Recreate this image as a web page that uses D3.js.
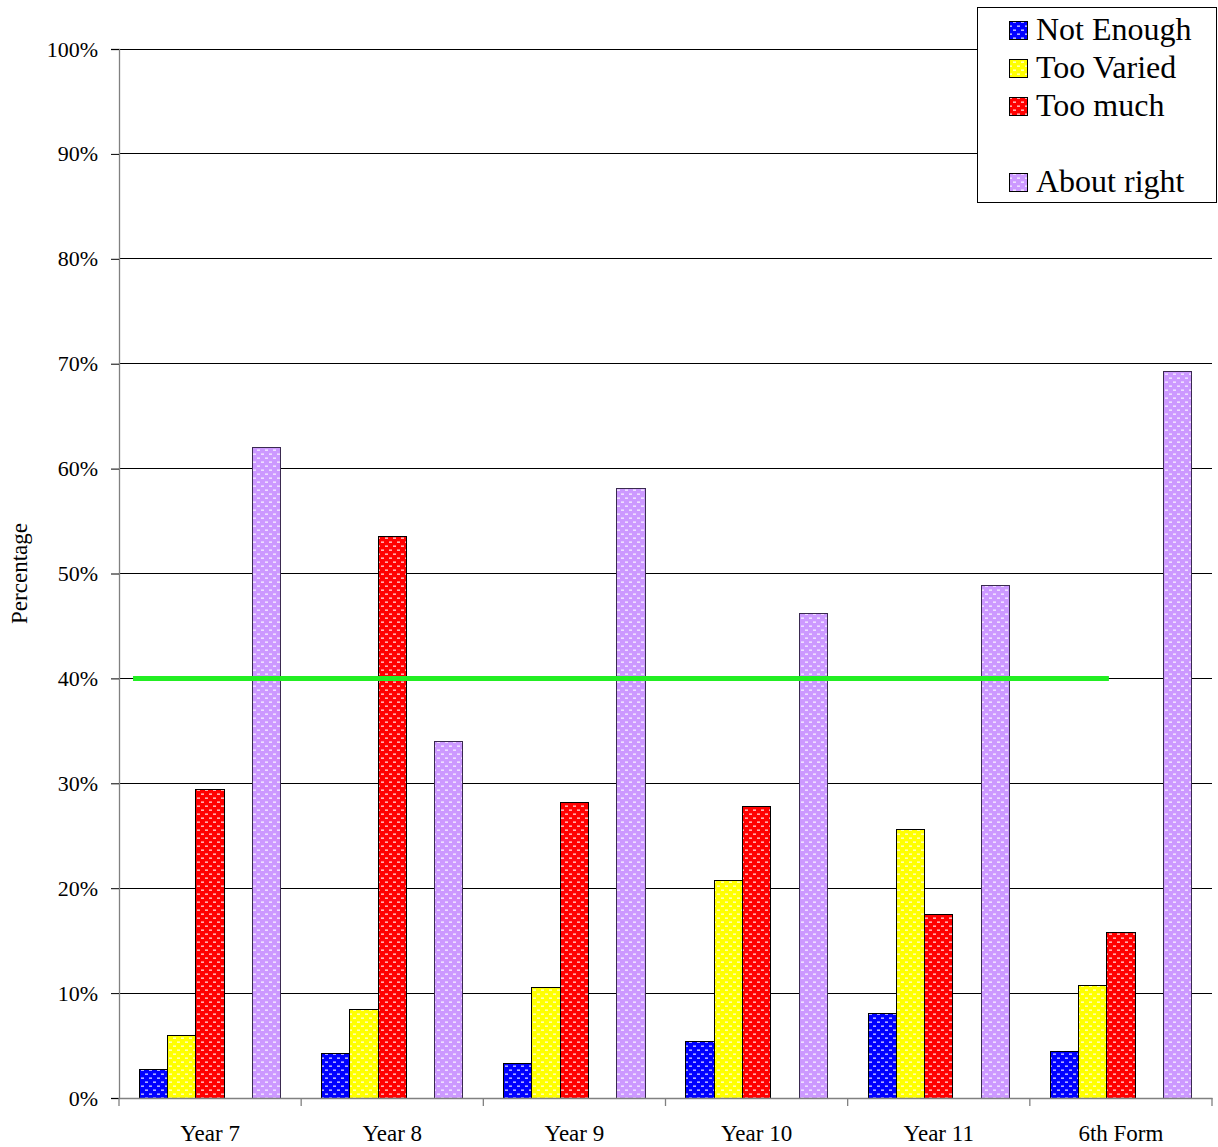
<!DOCTYPE html>
<html>
<head>
<meta charset="utf-8">
<script src="https://cdn.jsdelivr.net/npm/d3@7"></script>
<style>
  body { margin: 0; background: #fff; }
  text { font-family: "Liberation Serif", "Times New Roman", serif; }
</style>
</head>
<body>
<script>
// Year groups along the x axis
const categories = ["Year 7", "Year 8", "Year 9", "Year 10", "Year 11", "6th Form"];
// Series names (one blank slot in the legend and the groups)
const seriesNames = ["Not Enough", "Too Varied", "Too much", "", "About right"];
const seriesColors = ["#0000ff", "#ffff00", "#ff0000", "none", "#cc99ff"];
// Percentages per year group
const notEnough  = [2.7, 4.2, 3.3, 5.4, 8.1, 4.4];
const tooVaried  = [6.0, 8.4, 10.5, 20.7, 25.6, 10.7];
const tooMuch    = [29.4, 53.5, 28.2, 27.8, 17.5, 15.8];
const blankSlot  = [null, null, null, null, null, null];
const aboutRight = [62.0, 34.0, 58.1, 46.2, 48.9, 69.3];
const seriesValues = [notEnough, tooVaried, tooMuch, blankSlot, aboutRight];
// Y axis ticks and reference level
const yTicks = [0, 10, 20, 30, 40, 50, 60, 70, 80, 90, 100];
const referenceLevel = 40;

const W = 1218, H = 1147;
const plotLeft = 119, plotRight = 1212, plotTop = 49, plotBottom = 1098;

const svg = d3.select("body").append("svg").attr("width", W).attr("height", H);

// dotted fill patterns for the bars
const defs = svg.append("defs");
seriesColors.forEach((c, i) => {
  if (c === "none") return;
  const p = defs.append("pattern").attr("id", "pat" + i)
    .attr("patternUnits", "userSpaceOnUse").attr("width", 8).attr("height", 8);
  p.append("rect").attr("width", 8).attr("height", 8).attr("fill", c);
  p.append("rect").attr("x", 1).attr("y", 1.5).attr("width", 3).attr("height", 1.3).attr("fill", "#fff").attr("opacity", 0.85);
  p.append("rect").attr("x", 5).attr("y", 5.5).attr("width", 3).attr("height", 1.3).attr("fill", "#fff").attr("opacity", 0.85);
});

const x = d3.scaleBand().domain(categories).range([plotLeft, plotRight]);
const inner = d3.scaleBand().domain(d3.range(seriesNames.length))
  .range([0, x.bandwidth()]).paddingOuter(0.72).paddingInner(0);
const y = d3.scaleLinear().domain([0, 100]).range([plotBottom, plotTop]);

// gridlines
svg.append("g").selectAll("line").data(yTicks.filter(t => t > 0)).join("line")
  .attr("x1", plotLeft).attr("x2", plotRight)
  .attr("y1", d => y(d)).attr("y2", d => y(d))
  .attr("stroke", "#000").attr("stroke-width", 1).attr("shape-rendering", "crispEdges");

// bars
seriesValues.forEach((vals, si) => {
  if (seriesColors[si] === "none") return;
  svg.append("g").selectAll("rect").data(categories.map((c, ci) => ({ c, v: vals[ci] })))
    .join("rect")
    .attr("x", d => x(d.c) + inner(si))
    .attr("width", inner.bandwidth())
    .attr("y", d => y(d.v))
    .attr("height", d => y(0) - y(d.v))
    .attr("fill", `url(#pat${si})`)
    .attr("stroke", si === 4 ? "#3a2a50" : "#000")
    .attr("stroke-width", 1)
    .attr("shape-rendering", "crispEdges");
});

// reference line
const refStart = x(categories[0]) + x.bandwidth() * 0.077;
const refEnd = x(categories[categories.length - 1]) + x.bandwidth() * 0.434;
svg.append("line")
  .attr("x1", refStart).attr("x2", refEnd)
  .attr("y1", y(referenceLevel)).attr("y2", y(referenceLevel))
  .attr("stroke", "#22ee22").attr("stroke-width", 5);

// y axis
const yAxis = svg.append("g").attr("transform", `translate(${plotLeft},0)`)
  .call(d3.axisLeft(y).tickValues(yTicks).tickSize(8).tickPadding(13).tickFormat(d => d + "%"));
yAxis.select(".domain").attr("stroke", "#808080").attr("stroke-width", 1.3);
yAxis.selectAll(".tick line").attr("stroke", "#000");
yAxis.selectAll("text").attr("font-size", 22).attr("fill", "#000")
  .style("font-family", '"Liberation Serif", serif');

// x axis
const xAxis = svg.append("g").attr("transform", `translate(0,${plotBottom})`)
  .call(d3.axisBottom(x).tickSize(0).tickPadding(0));
xAxis.select(".domain").attr("stroke", "#808080").attr("stroke-width", 1.3);
xAxis.selectAll("text").attr("font-size", 23).attr("fill", "#000").attr("dy", 43)
  .style("font-family", '"Liberation Serif", serif');
// category separators
svg.append("g").selectAll("line").data(categories.concat(["end"])).join("line")
  .attr("x1", (d, i) => plotLeft + i * x.step()).attr("x2", (d, i) => plotLeft + i * x.step())
  .attr("y1", plotBottom).attr("y2", plotBottom + 8)
  .attr("stroke", "#808080").attr("stroke-width", 1.3);

// axis title
svg.append("text")
  .attr("transform", `translate(27,${(plotTop + plotBottom) / 2}) rotate(-90)`)
  .attr("text-anchor", "middle").attr("font-size", 23).text("Percentage");

// legend
const lg = svg.append("g");
lg.append("rect").attr("x", 977.5).attr("y", 7.5).attr("width", 239).attr("height", 195)
  .attr("fill", "#fff").attr("stroke", "#000").attr("stroke-width", 1);
seriesNames.forEach((n, i) => {
  const cy = 31 + i * 38;
  if (seriesColors[i] !== "none") {
    lg.append("rect").attr("x", 1009.5).attr("y", cy - 9.5).attr("width", 18).attr("height", 18)
      .attr("fill", `url(#pat${i})`).attr("stroke", "#000").attr("stroke-width", 1);
  }
  lg.append("text").attr("x", 1036).attr("y", cy + 9).attr("font-size", 32).text(n);
});
</script>
</body>
</html>
